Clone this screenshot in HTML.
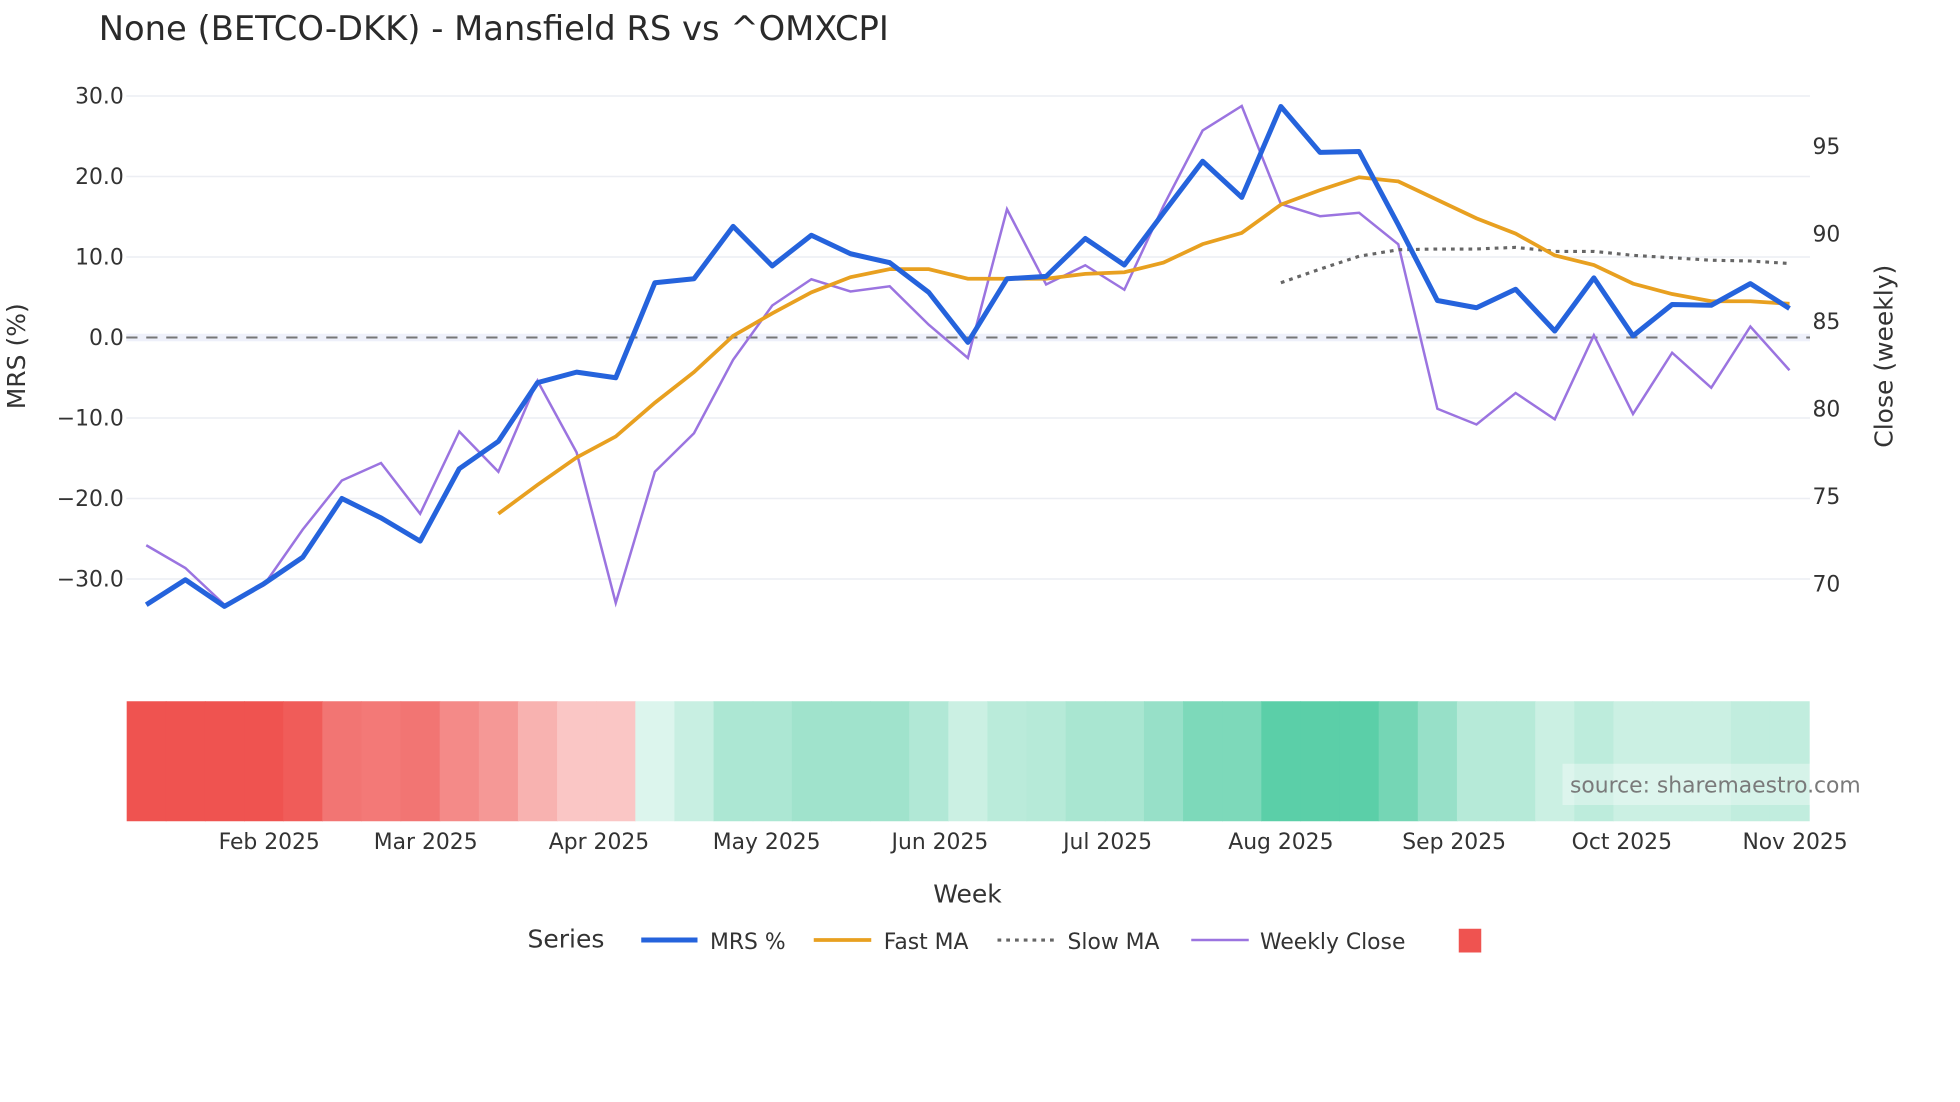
<!DOCTYPE html>
<html><head><meta charset="utf-8"><style>
html,body{margin:0;padding:0;background:#fff;}
svg{display:block;font-family:"DejaVu Sans","Liberation Sans",sans-serif;}
</style></head><body>
<svg id="chart" width="1960" height="1102" viewBox="0 0 1568 881.6" preserveAspectRatio="none" xmlns="http://www.w3.org/2000/svg">
<text x="79" y="32" font-size="27" fill="#2a2a2a">None (BETCO-DKK) - Mansfield RS vs ^OMXCPI</text>
<g id="grid"></g>
<g id="heat"></g>
<g id="lines"></g>
<g id="axes"></g>
<rect x="1250" y="611" width="198" height="33" fill="#fff" opacity="0.35"/>
<text x="1256" y="634" font-size="17.5" fill="#7a7a7a">source: sharemaestro.com</text>
<text x="774" y="722" font-size="20" fill="#333" text-anchor="middle">Week</text>
<text transform="translate(20,285) rotate(-90)" font-size="20" fill="#333" text-anchor="middle">MRS (%)</text>
<text transform="translate(1514,285) rotate(-90)" font-size="20" fill="#333" text-anchor="middle">Close (weekly)</text>
<g>
<text x="422" y="758" font-size="20" fill="#333">Series</text>
<g><line x1="513" y1="752" x2="558" y2="752" stroke="#2563dc" stroke-width="4"/><text x="568" y="759" font-size="17.5" fill="#333">MRS %</text></g>
<g><line x1="651" y1="752" x2="697" y2="752" stroke="#e8a020" stroke-width="3"/><text x="707" y="759" font-size="17.5" fill="#333">Fast MA</text></g>
<g><line x1="798" y1="752" x2="843" y2="752" stroke="#666" stroke-width="2.5" stroke-dasharray="3,4"/><text x="854" y="759" font-size="17.5" fill="#333">Slow MA</text></g>
<g><line x1="953" y1="752" x2="999" y2="752" stroke="#9b74e0" stroke-width="2"/><text x="1008" y="759" font-size="17.5" fill="#333">Weekly Close</text></g>
<rect x="1167" y="743" width="18" height="19" fill="#ef5350"/>
</g>
</svg>
<script>
const mrs=[-33.2,-30.1,-33.4,-30.6,-27.3,-20.0,-22.4,-25.3,-16.3,-12.9,-5.6,-4.3,-5.0,6.8,7.3,13.8,8.9,12.7,10.4,9.3,5.6,-0.6,7.3,7.6,12.3,9.0,15.5,21.9,17.4,28.7,23.0,23.1,14.0,4.6,3.7,6.0,0.8,7.4,0.2,4.1,4.0,6.7,3.6];
const weeklyClose=[72.2,70.9,68.8,69.9,73.1,75.9,76.9,74.0,78.7,76.4,81.6,77.5,68.9,76.4,78.6,82.8,85.9,87.4,86.7,87.0,84.8,82.9,91.4,87.1,88.2,86.8,91.6,95.9,97.3,91.7,91.0,91.2,89.4,80.0,79.1,80.9,79.4,84.2,79.7,83.2,81.2,84.7,82.2];
const fastMA=[null,null,null,null,null,null,null,null,null,-21.9,-18.3,-14.9,-12.3,-8.1,-4.3,0.2,3.0,5.6,7.5,8.5,8.5,7.3,7.3,7.3,7.9,8.1,9.3,11.6,13.0,16.5,18.3,19.9,19.4,17.1,14.8,12.9,10.2,9.0,6.7,5.4,4.5,4.5,4.2];
const slowMA=[null,null,null,null,null,null,null,null,null,null,null,null,null,null,null,null,null,null,null,null,null,null,null,null,null,null,null,null,null,6.8,8.5,10.1,10.9,11.0,11.0,11.2,10.7,10.7,10.2,9.9,9.6,9.5,9.2];
const heatScore=[-1,-1,-1,-1,-0.95,-0.8,-0.78,-0.8,-0.68,-0.6,-0.45,-0.33,-0.33,0.2,0.32,0.48,0.48,0.55,0.55,0.55,0.45,0.3,0.4,0.42,0.5,0.5,0.6,0.75,0.75,0.95,0.95,0.95,0.8,0.6,0.42,0.42,0.3,0.38,0.3,0.3,0.3,0.36,0.36];
const leftTicks=[30,20,10,0,-10,-20,-30];
const leftTickLabels=["30.0","20.0","10.0","0.0","\u221210.0","\u221220.0","\u221230.0"];
const rightTicks=[95,90,85,80,75,70];
const monthLabels=["Feb 2025","Mar 2025","Apr 2025","May 2025","Jun 2025","Jul 2025","Aug 2025","Sep 2025","Oct 2025","Nov 2025"];
const monthDates=["2025-02-01","2025-03-01","2025-04-01","2025-05-01","2025-06-01","2025-07-01","2025-08-01","2025-09-01","2025-10-01","2025-11-01"];
const firstWeek="2025-01-10";

const NS="http://www.w3.org/2000/svg";
const X0=117, DAYPX=31.3/7;
const t0=Date.parse(firstWeek);
function xDate(s){return X0+(Date.parse(s)-t0)/86400000*DAYPX;}
function xIdx(i){return X0+i*7*DAYPX;}
function yL(v){return 270-v*6.44;}
function yR(v){return 257-(v-85)*14;}
function mk(tag,attrs,parent){const e=document.createElementNS(NS,tag);for(const k in attrs)e.setAttribute(k,attrs[k]);parent.appendChild(e);return e;}
const grid=document.getElementById('grid'),heat=document.getElementById('heat'),lines=document.getElementById('lines'),axes=document.getElementById('axes');

leftTicks.forEach((v,i)=>{
  const g=mk('line',{x1:101,x2:1448,y1:yL(v),y2:yL(v),stroke:'#eceef3','stroke-width':1.2},grid);
  
  
  const t=mk('text',{x:99,y:yL(v)+6,'font-size':17.5,fill:'#333','text-anchor':'end'},axes);
  t.textContent=leftTickLabels[i];
  
  
});
rightTicks.forEach(v=>{
  const t=mk('text',{x:1450,y:yR(v)+6,'font-size':17.5,fill:'#333'},axes);
  t.textContent=String(v);
  
  
});
const band=mk('rect',{x:101,y:267,width:1347,height:6,fill:'#eef0fa'},grid);


const zl=mk('line',{x1:101,x2:1448,y1:yL(0),y2:yL(0),stroke:'#777','stroke-width':1.6,'stroke-dasharray':'9,7'},grid);



const cw=7*DAYPX;
heatScore.forEach((v,i)=>{
  const a=Math.min(1,Math.abs(v));
  const base=v<0?[239,83,80]:[82,204,163];
  const c=base.map(b=>Math.round(255-(255-b)*a));
  const r=mk('rect',{x:xIdx(i)-cw/2,y:561,width:cw+0.5,height:96,fill:`rgb(${c[0]},${c[1]},${c[2]})`},heat);
  
  
});
monthLabels.forEach((m,i)=>{
  const t=mk('text',{x:xDate(monthDates[i]),y:679,'font-size':17.5,fill:'#333','text-anchor':'middle'},axes);
  t.textContent=m;
  
  
});

function path(arr,yf){let d='';arr.forEach((v,i)=>{if(v==null)return;d+=(d?'L':'M')+xIdx(i).toFixed(1)+','+yf(v).toFixed(1);});return d;}
const wc=mk('path',{d:path(weeklyClose,yR),fill:'none',stroke:'#9b74e0','stroke-width':2},lines);


const sm=mk('path',{d:path(slowMA,yL),fill:'none',stroke:'#666','stroke-width':2.5,'stroke-dasharray':'3,4'},lines);


const fm=mk('path',{d:path(fastMA,yL),fill:'none',stroke:'#e8a020','stroke-width':3},lines);


const ml=mk('path',{d:path(mrs,yL),fill:'none',stroke:'#2563dc','stroke-width':4,'stroke-linejoin':'round'},lines);


</script>
</body></html>
